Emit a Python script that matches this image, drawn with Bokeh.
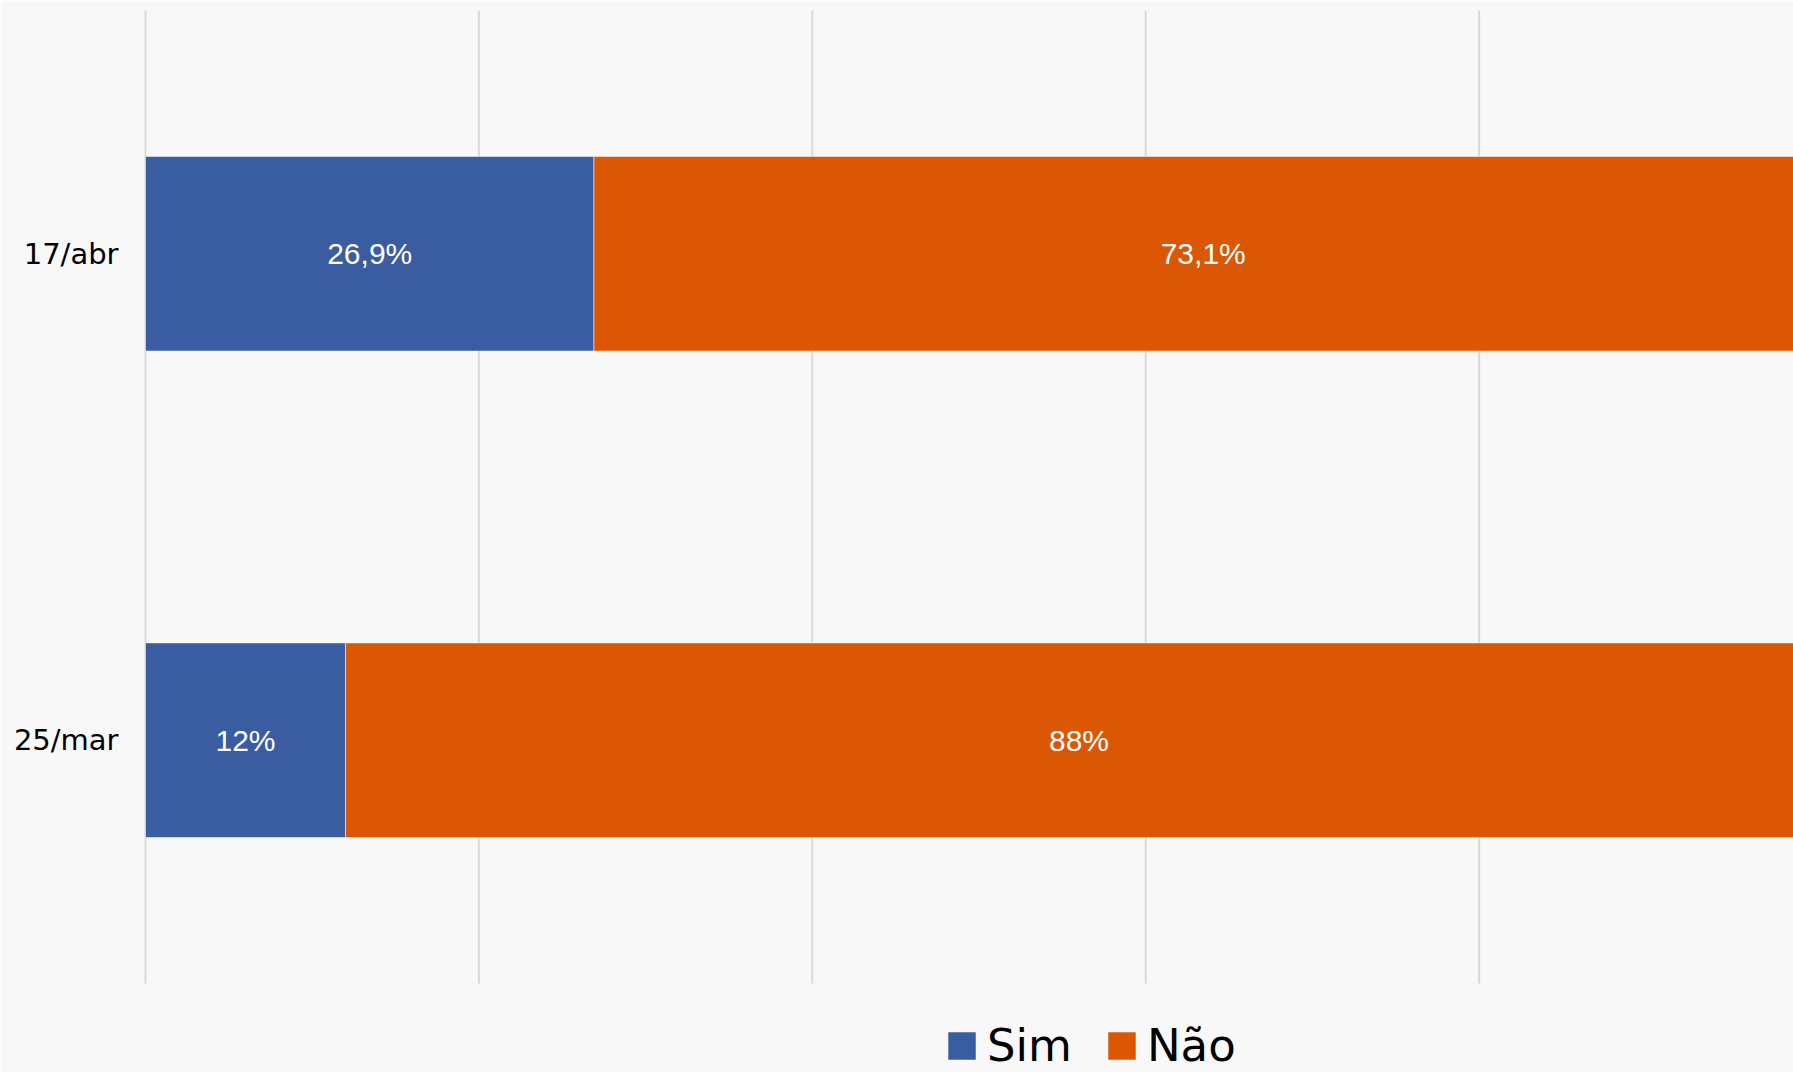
from bokeh.plotting import figure
from bokeh.models import ColumnDataSource, Range1d, FixedTicker, Legend, LegendItem
from bokeh.core.properties import value
from bokeh.embed import file_html
from bokeh.resources import INLINE

categories = ["25/mar", "17/abr"]
sim = [12.0, 26.9]
nao = [88.0, 73.1]
sim_labels = ["12%", "26,9%"]
nao_labels = ["88%", "73,1%"]
grid_ticks = [0, 20, 40, 60, 80, 100]

BLUE = "#3A5CA0"
ORANGE = "#DB5704"
BG = "#F8F8F8"
FONT = "Liberation Sans"

ypos = list(range(len(categories)))
src = ColumnDataSource(dict(
    y=ypos,
    cat=categories,
    sim_end=sim,
    nao_end=[s + n for s, n in zip(sim, nao)],
    sim_mid=[s / 2 for s in sim],
    nao_mid=[s + n / 2 for s, n in zip(sim, nao)],
    sim_lab=sim_labels,
    nao_lab=nao_labels,
))
grid_src = ColumnDataSource(dict(
    x=grid_ticks,
    y0=[-0.5] * len(grid_ticks),
    y1=[len(categories) - 0.5] * len(grid_ticks),
))

p = figure(width=1793, height=1072, output_backend="svg", toolbar_location=None,
           x_range=Range1d(-0.12, 98.86),
           y_range=Range1d(-0.683, len(categories) - 0.5),
           min_border_left=143, min_border_right=0, min_border_top=10, min_border_bottom=0)

p.background_fill_color = BG
p.border_fill_color = BG
p.outline_line_color = None
p.grid.visible = False

p.segment(x0="x", x1="x", y0="y0", y1="y1", source=grid_src,
          line_color="#D9D9D9", line_width=2)

r_sim = p.hbar(y="y", left=0, right="sim_end", height=0.4, source=src,
               fill_color=BLUE, line_color="white", line_alpha=0.5, line_width=1)
r_nao = p.hbar(y="y", left="sim_end", right="nao_end", height=0.4, source=src,
               fill_color=ORANGE, line_color="white", line_alpha=0.5, line_width=1)

p.text(x="sim_mid", y="y", text="sim_lab", source=src, text_color="white",
       text_font=value(FONT), text_font_size="30px", text_align="center", text_baseline="middle")
p.text(x="nao_mid", y="y", text="nao_lab", source=src, text_color="white",
       text_font=value(FONT), text_font_size="30px", text_align="center", text_baseline="middle")

p.xaxis.visible = False

p.yaxis.ticker = FixedTicker(ticks=ypos)
p.yaxis.major_label_overrides = {i: c for i, c in zip(ypos, categories)}
p.yaxis.axis_line_color = None
p.yaxis.major_tick_line_color = None
p.yaxis.minor_tick_line_color = None
p.yaxis.major_tick_out = 0
p.yaxis.major_tick_in = 0
p.yaxis.major_label_standoff = 25
p.yaxis.major_label_text_font = "DejaVu Sans"
p.yaxis.major_label_text_font_size = "29px"
p.yaxis.major_label_text_color = "black"

legend = Legend(items=[LegendItem(label="Sim", renderers=[r_sim]),
                       LegendItem(label="Não", renderers=[r_nao])],
                orientation="horizontal", location=(801, 0),
                glyph_width=35, glyph_height=35, label_standoff=8, spacing=32,
                padding=0, margin=0, border_line_color=None, background_fill_alpha=0,
                label_text_font="DejaVu Sans", label_text_font_size="45px",
                label_text_color="black")
p.add_layout(legend, "center")

open("out.html", "w").write(file_html(p, INLINE))
